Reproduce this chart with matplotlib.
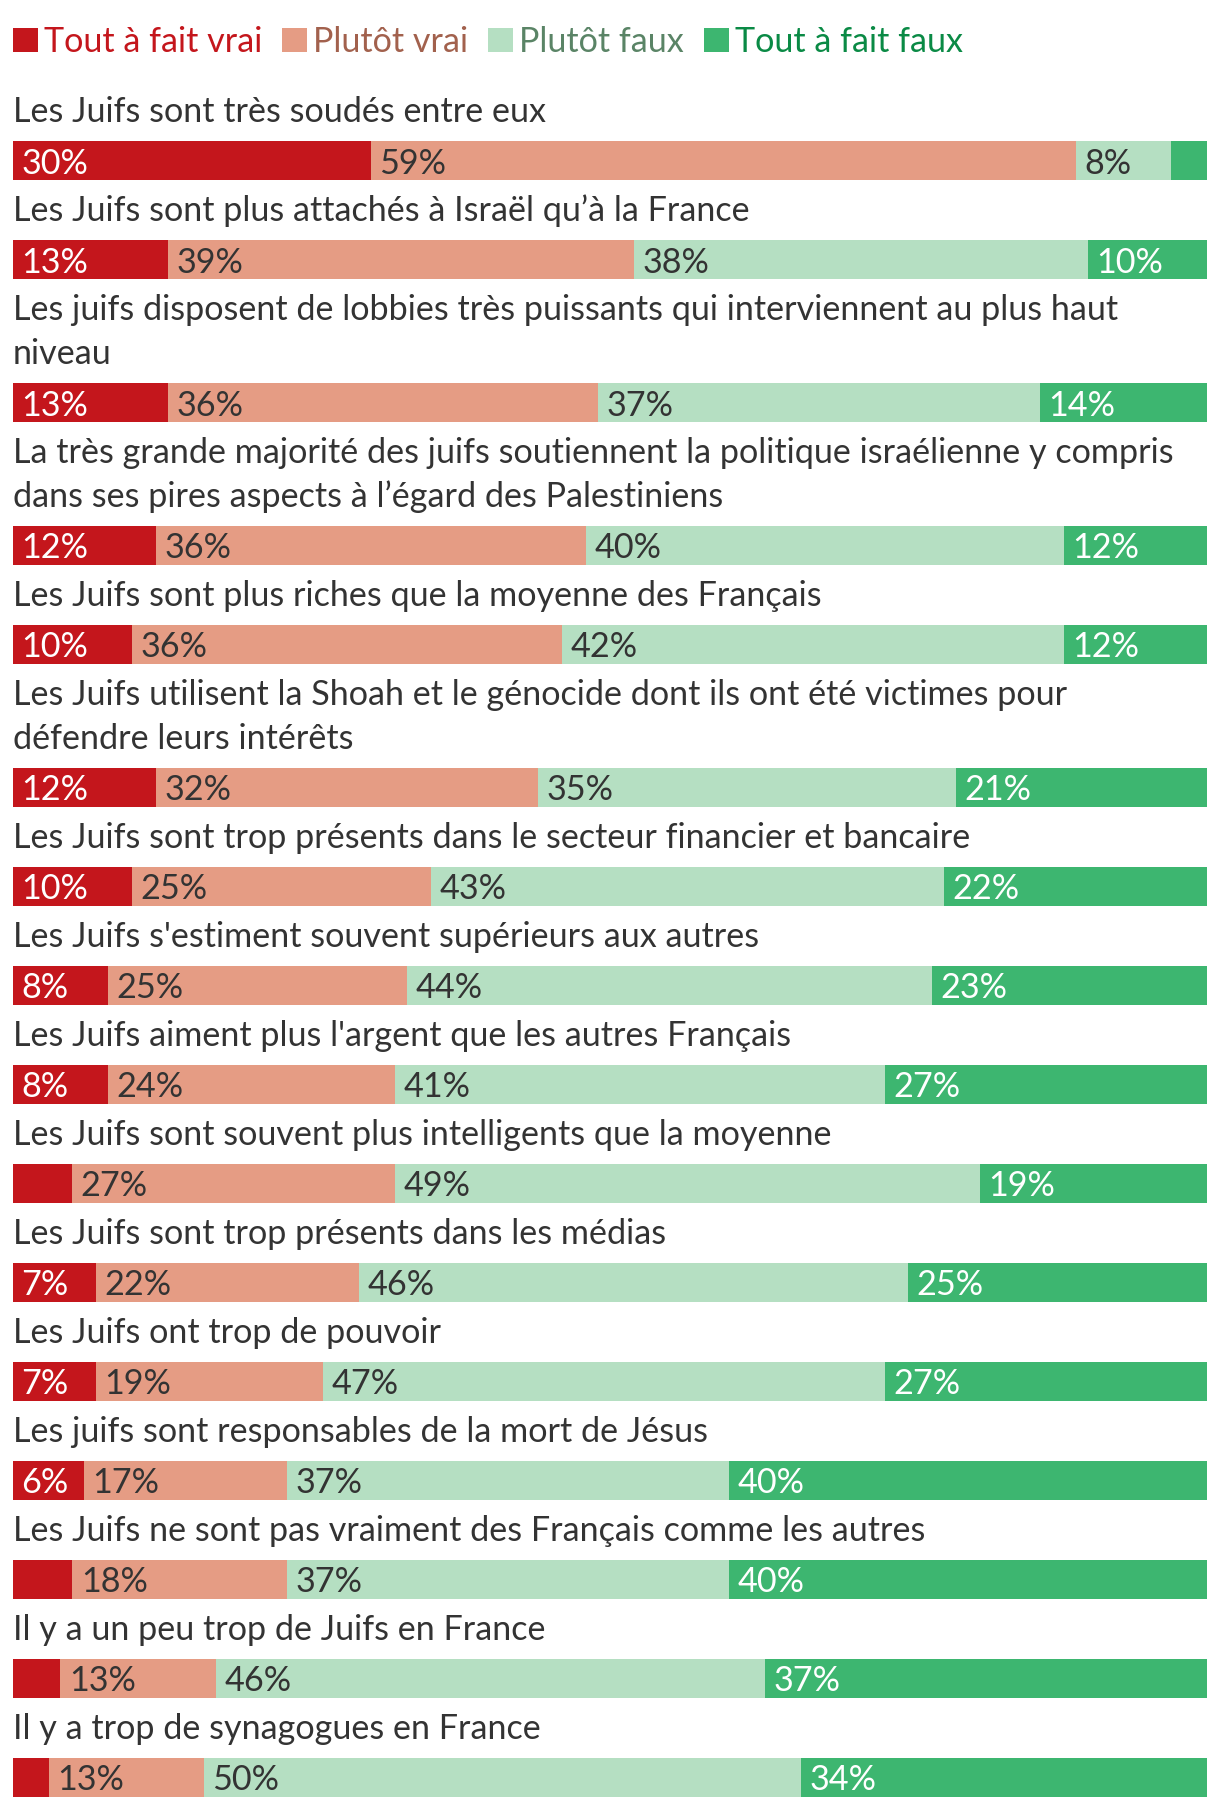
import matplotlib.pyplot as plt
from matplotlib.patches import Patch

plt.rcParams['font.family'] = ['Lato', 'DejaVu Sans']

categories = ["Tout à fait vrai", "Plutôt vrai", "Plutôt faux", "Tout à fait faux"]

questions = [
    "Les Juifs sont très soudés entre eux",
    "Les Juifs sont plus attachés à Israël qu’à la France",
    "Les juifs disposent de lobbies très puissants qui interviennent au plus haut\nniveau",
    "La très grande majorité des juifs soutiennent la politique israélienne y compris\ndans ses pires aspects à l’égard des Palestiniens",
    "Les Juifs sont plus riches que la moyenne des Français",
    "Les Juifs utilisent la Shoah et le génocide dont ils ont été victimes pour\ndéfendre leurs intérêts",
    "Les Juifs sont trop présents dans le secteur financier et bancaire",
    "Les Juifs s'estiment souvent supérieurs aux autres",
    "Les Juifs aiment plus l'argent que les autres Français",
    "Les Juifs sont souvent plus intelligents que la moyenne",
    "Les Juifs sont trop présents dans les médias",
    "Les Juifs ont trop de pouvoir",
    "Les juifs sont responsables de la mort de Jésus",
    "Les Juifs ne sont pas vraiment des Français comme les autres",
    "Il y a un peu trop de Juifs en France",
    "Il y a trop de synagogues en France",
]

tout_vrai = [30, 13, 13, 12, 10, 12, 10, 8, 8, 5, 7, 7, 6, 5, 4, 3]
plutot_vrai = [59, 39, 36, 36, 36, 32, 25, 25, 24, 27, 22, 19, 17, 18, 13, 13]
plutot_faux = [8, 38, 37, 40, 42, 35, 43, 44, 41, 49, 46, 47, 37, 37, 46, 50]
tout_faux = [3, 10, 14, 12, 12, 21, 22, 23, 27, 19, 25, 27, 40, 40, 37, 34]

bar_colors = ["#c4161c", "#e59c84", "#b5dfc2", "#3db670"]
legend_text_colors = ["#c4161c", "#a2614d", "#5a8466", "#0a8a45"]
pct_colors = ["white", "#333333", "#333333", "white"]

W, H = 1220, 1810
fig = plt.figure(figsize=(W / 100, H / 100), dpi=100)
x0, x1 = 12.7, 1207
ax = fig.add_axes([x0 / W, 0, (x1 - x0) / W, 1])
ax.set_xlim(0, 100)
ax.set_ylim(H, 0)
ax.axis('off')

# fit the font size on the longest line
renderer = fig.canvas.get_renderer()
probe = ax.text(0, 500, "La très grande majorité des juifs soutiennent la politique israélienne y compris",
                fontsize=20)
wpx = probe.get_window_extent(renderer).width
probe.remove()
fs = 20 * 1166 / wpx
fs_px = fs * 100 / 72

# vertical layout in pixels
line_h = 43.9
bar_h = 39.2
first_base = 122
base_to_bar = 19
bar_to_base = 99 - bar_h - base_to_bar
series = [tout_vrai, plutot_vrai, plutot_faux, tout_faux]
base = first_base
for i, q in enumerate(questions):
    lines = q.split("\n")
    for j, ln in enumerate(lines):
        ax.text(0, base + j * line_h, ln, fontsize=fs, color="#333333",
                va='baseline', ha='left')
    bar_top = base + (len(lines) - 1) * line_h + base_to_bar
    bar_c = bar_top + bar_h / 2
    left = 0
    for k, s in enumerate(series):
        v = s[i]
        ax.barh(bar_c, v, left=left, height=bar_h, color=bar_colors[k], linewidth=0)
        if v >= 6:
            ax.text(left + 0.7, bar_c + 3, f"{v}%", fontsize=fs, color=pct_colors[k],
                    va='center', ha='left')
        left += v
    base = bar_top + bar_h + bar_to_base

handles = [Patch(facecolor=c, edgecolor='none') for c in bar_colors]
sq = 25
leg = ax.legend(handles, categories, loc='upper left', bbox_to_anchor=(0, 1 - 26 / H),
                ncol=4, frameon=False, fontsize=fs, labelcolor=legend_text_colors,
                handlelength=sq / fs_px, handleheight=sq / fs_px, handletextpad=6 / fs_px,
                columnspacing=20 / fs_px, borderpad=0, borderaxespad=0)

fig.savefig("out.png", dpi=100)
